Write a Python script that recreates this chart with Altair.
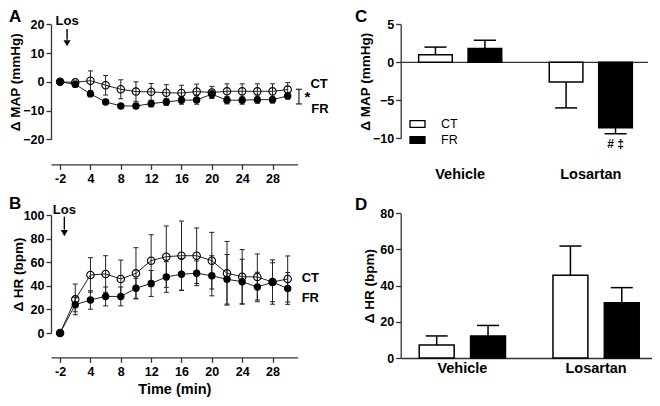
import altair as alt
import pandas as pd

FONT = "Liberation Sans"
INK = "#222222"

# ---------------- data ----------------
times = [-2, 2, 4, 6, 8, 10, 12, 14, 16, 18, 20, 22, 24, 26, 28, 30]

map_ct = [0, -0.2, 0.4, -1.2, -2.6, -3.4, -3.5, -3.8, -3.9, -3.4, -3.7, -3.3, -3.3, -3.3, -3.3, -2.7]
map_ct_se = [0, 0.5, 3.4, 3.4, 3.3, 3.4, 2.9, 2.8, 2.7, 2.6, 2.1, 2.6, 2.6, 2.6, 2.6, 2.4]
map_fr = [0, -0.9, -4.2, -7.0, -8.4, -8.4, -7.6, -7.0, -6.4, -6.3, -4.3, -6.4, -6.4, -6.2, -6.2, -4.9]
map_fr_se = [0, 0.6, 0.9, 0.9, 0.8, 0.9, 1.1, 1.2, 1.4, 1.5, 1.2, 1.3, 1.4, 1.3, 1.2, 1.1]

hr_ct = [0, 28.5, 49.2, 50.0, 45.8, 50.6, 61.3, 64.7, 65.5, 65.5, 61.3, 50.6, 47.7, 47.5, 43.2, 45.8]
hr_ct_se = [0, 13.0, 14.6, 15.5, 16.0, 21.7, 22.0, 26.0, 29.4, 23.5, 24.0, 27.0, 23.0, 19.5, 18.8, 19.5]
hr_fr = [0, 24.0, 28.0, 31.0, 31.0, 37.9, 42.0, 47.5, 49.8, 50.6, 48.5, 45.5, 43.5, 39.0, 43.0, 37.8]
hr_fr_se = [0, 6.0, 7.8, 8.0, 8.0, 8.5, 11.0, 13.0, 13.5, 10.5, 17.0, 21.0, 19.0, 12.5, 16.5, 13.5]

groups = ["CT", "FR"]
treatments = ["Vehicle", "Losartan"]
bar_map_mean = {"CT": [1.0, -2.6], "FR": [1.8, -8.6]}
bar_map_se = {"CT": [1.0, 3.4], "FR": [1.1, 0.8]}
bar_hr_mean = {"CT": [7.2, 45.7], "FR": [12.2, 30.6]}
bar_hr_se = {"CT": [5.0, 16.2], "FR": [5.8, 8.3]}

map_ticks = [-20, -10, 0, 10, 20]
hr_ticks = [0, 20, 40, 60, 80, 100]
bar_map_ticks = [-10, -5, 0, 5]
bar_hr_ticks = [0, 20, 40, 60, 80]
panel_letters = ["A", "B", "C", "D"]


def ts_frame(ct, ct_se, fr, fr_se):
    rows = []
    for grp, m, s in (("CT", ct, ct_se), ("FR", fr, fr_se)):
        for i, (t, mv, sv) in enumerate(zip(times, m, s)):
            rows.append({"slot": i, "time": t, "group": grp, "mean": mv,
                         "lo": mv - sv, "hi": mv + sv})
    return pd.DataFrame(rows)


def bar_frame(means, ses):
    rows = []
    for g in groups:
        for i, tr in enumerate(treatments):
            m = means[g][i]
            s = ses[g][i]
            rows.append({"treatment": tr, "group": g, "mean": m,
                         "end": m + (s if m >= 0 else -s)})
    return pd.DataFrame(rows)


def ts_panel(df, y_dom, y_rng, y_vals, y_title, x_off, x_title, ann):
    xs = alt.Scale(domain=[-0.6, 15.66], range=[43, 289.7], nice=False, zero=False)
    xa_kw = dict(orient="bottom", offset=x_off, values=list(range(0, 15, 2)),
                 labelExpr="datum.value == 0 ? '-2' : '' + datum.value * 2",
                 labelPadding=3, title=x_title)
    if x_title:
        xa_kw.update(titlePadding=4.5, titleFontSize=14.5)
    xa = alt.Axis(**xa_kw)
    ys = alt.Scale(domain=y_dom, range=y_rng, nice=False, zero=False)
    ya = alt.Axis(orient="left", offset=-43, values=y_vals, title=y_title,
                  titlePadding=ann["tpad"])

    def X(f):
        return alt.X(f, type="quantitative", scale=xs, axis=xa)

    def Y(f):
        return alt.Y(f, type="quantitative", scale=ys, axis=ya)

    base = alt.Chart(df)
    err = base.mark_rule(color=INK, strokeWidth=1).encode(x=X("slot"), y=Y("lo"), y2="hi")
    cap_lo = base.mark_tick(orient="horizontal", size=5, thickness=1, color=INK,
                            opacity=1).encode(x=X("slot"), y=Y("lo"))
    cap_hi = base.mark_tick(orient="horizontal", size=5, thickness=1, color=INK,
                            opacity=1).encode(x=X("slot"), y=Y("hi"))
    line = base.mark_line(color=INK, strokeWidth=1).encode(
        x=X("slot"), y=Y("mean"), detail="group:N")
    ct = base.transform_filter("datum.group == 'CT'").mark_point(
        shape="circle", filled=False, size=55, color="black", strokeWidth=1.1,
        opacity=1).encode(x=X("slot"), y=Y("mean"))
    fr = base.transform_filter("datum.group == 'FR'").mark_circle(
        size=55, color="black", opacity=1).encode(x=X("slot"), y=Y("mean"))

    los = pd.DataFrame({"slot": [ann["los_x"]], "ty": [ann["los_ty"]],
                        "y1": [ann["shaft"][0]], "y2": [ann["shaft"][1]],
                        "hy": [ann["head"]], "label": ["Los"]})
    los_text = alt.Chart(los).mark_text(fontSize=13, fontWeight="bold", align="center",
                                        baseline="middle", color="black").encode(
        x=X("slot"), y=Y("ty"), text="label:N")
    shaft = alt.Chart(los).mark_rule(color="black", strokeWidth=1.4).encode(
        x=X("slot"), y=Y("y1"), y2="y2")
    head = alt.Chart(los).mark_point(shape="triangle-down", filled=True, size=50,
                                     color="black", opacity=1).encode(x=X("slot"), y=Y("hy"))
    labs = pd.DataFrame({"slot": ann["lab_x"], "y": ann["lab_y"], "label": groups})
    lab_text = alt.Chart(labs).mark_text(fontSize=13, fontWeight="bold", align="left",
                                         baseline="middle", color="black").encode(
        x=X("slot"), y=Y("y"), text="label:N")
    layers = [err, cap_lo, cap_hi, line, ct, fr, los_text, shaft, head, lab_text]
    if "bracket" in ann:
        b = ann["bracket"]
        br = pd.DataFrame({"slot": [b[0]], "top": [b[1]], "bot": [b[2]],
                           "sx": [b[3]], "sy": [b[4]], "label": ["*"]})
        layers.append(alt.Chart(br).mark_rule(color=INK, strokeWidth=1.2).encode(
            x=X("slot"), y=Y("top"), y2="bot"))
        layers.append(alt.Chart(br).mark_tick(orient="horizontal", size=6, thickness=1.2,
                                              color=INK, opacity=1).encode(x=X("slot"), y=Y("top")))
        layers.append(alt.Chart(br).mark_tick(orient="horizontal", size=6, thickness=1.2,
                                              color=INK, opacity=1).encode(x=X("slot"), y=Y("bot")))
        layers.append(alt.Chart(br).mark_text(fontSize=15, fontWeight="bold", align="center",
                                              baseline="middle", color="black").encode(
            x=X("sx"), y=Y("sy"), text="label:N"))
    return alt.layer(*layers)


def bar_panel(df, y_dom, y_rng, y_vals, y_title, x_rng, x_pi, x_po, x_align,
              x_axis, legend, tpad, extra):
    xs = alt.Scale(domain=treatments, range=x_rng, paddingInner=x_pi,
                   paddingOuter=x_po, align=x_align)
    X = alt.X("treatment:N", scale=xs, axis=x_axis)
    XO = alt.XOffset("group:N", scale=alt.Scale(domain=groups, paddingInner=0.32,
                                                  paddingOuter=0))
    ys = alt.Scale(domain=y_dom, range=y_rng, nice=False)
    ya = alt.Axis(orient="left", offset=-392.7, values=y_vals, title=y_title,
                  titlePadding=tpad)

    def Y(f):
        return alt.Y(f, type="quantitative", scale=ys, axis=ya)

    base = alt.Chart(df)
    err = base.mark_rule(color="black", strokeWidth=1.5).encode(
        x=X, xOffset=XO, y=Y("mean"), y2="end")
    cap = base.mark_tick(orient="horizontal", size=22, thickness=1.5, color="black",
                         opacity=1).encode(x=X, xOffset=XO, y=Y("end"))
    bars = base.mark_bar(stroke="black", strokeWidth=1.5, opacity=1).encode(
        x=X, xOffset=XO, y=Y("mean"),
        fill=alt.Fill("group:N", scale=alt.Scale(domain=groups, range=["white", "black"]),
                      legend=legend))
    layers = [err, cap, bars]
    if extra == "C":
        zero = alt.Chart(pd.DataFrame({"y": [0]})).mark_rule(
            color="#333333", strokeWidth=1.3).encode(
            y=Y("y"), x=alt.value(392.7), x2=alt.value(640))
        sig = pd.DataFrame({"treatment": ["Losartan"], "group": ["FR"],
                            "y": [-10.75], "label": ["# \u2021"]})
        sig_text = alt.Chart(sig).mark_text(fontSize=12, fontWeight="bold",
                                            align="center", baseline="middle",
                                            color="black").encode(
            x=X, xOffset=XO, y=Y("y"), text="label:N")
        layers = [zero] + layers + [sig_text]
    return alt.layer(*layers)


dfA = ts_frame(map_ct, map_ct_se, map_fr, map_fr_se)
dfB = ts_frame(hr_ct, hr_ct_se, hr_fr, hr_fr_se)
dfC = bar_frame(bar_map_mean, bar_map_se)
dfD = bar_frame(bar_hr_mean, bar_hr_se)

panelA = ts_panel(dfA, [-20, 20], [131.3, 16.3], map_ticks, "\u0394 MAP (mmHg)", -233.7, None,
                  {"los_x": 0.46, "los_ty": 21.2, "shaft": [18.4, 14.6], "head": 13.4,
                   "lab_x": [16.5, 16.55], "lab_y": [-0.7, -9.6], "tpad": 0,
                   "bracket": [15.74, -2.6, -7.7, 16.3, -5.3]})
panelB = ts_panel(dfB, [0, 100], [325, 207], hr_ticks, "\u0394 HR (bpm)", -40.7, "Time (min)",
                  {"los_x": 0.28, "los_ty": 104.2, "shaft": [98.6, 87.5], "head": 84.6,
                   "lab_x": [15.92, 15.92], "lab_y": [46.4, 29.4], "tpad": -2})

legC = alt.Legend(orient="none", legendX=401, legendY=107.5, title=None,
                  symbolType="M-1,-0.45H1V0.45H-1Z", symbolSize=225,
                  symbolStrokeColor="black", symbolStrokeWidth=1.3,
                  labelFontSize=12.5, labelFontWeight="normal", labelColor="black",
                  labelOffset=15, rowPadding=1, padding=0, direction="vertical")

axC = alt.Axis(orient="bottom", offset=-230.2, domain=False, ticks=False, tickSize=0,
               labelPadding=0, labelFontSize=14.5, labelAngle=0, title=None)
axD = alt.Axis(orient="bottom", offset=-40, domain=True, ticks=False, tickSize=0,
               labelPadding=3.8, labelFontSize=14.5, labelAngle=0, title=None)

panelC = bar_panel(dfC, [-10, 5], [130.3, 16.3], bar_map_ticks, "\u0394 MAP (mmHg)",
                   [392.7, 640], 0.364, 0.1286, 0.534, axC, legC, 0, "C")
panelD = bar_panel(dfD, [0, 80], [350, 205.3], bar_hr_ticks, "\u0394 HR (bpm)",
                   [392.7, 648], 0.355, 0.132, 0.525, axD, None, 3, "D")

letter_layers = []
for letter, (px, py) in zip(panel_letters, [(1, 0.5), (1, 187.5), (347, 0.5), (347, 189)]):
    letter_layers.append(
        alt.Chart(pd.DataFrame({"t": [letter]})).mark_text(
            fontSize=17, fontWeight="bold", align="left", baseline="top",
            color="black").encode(text="t:N", x=alt.value(px), y=alt.value(py)))

chart = alt.layer(panelA, panelB, panelC, panelD, *letter_layers).resolve_scale(
    x="independent", y="independent", xOffset="independent", fill="independent"
).resolve_axis(
    x="independent", y="independent"
).properties(
    width=644, height=390, padding=0, autosize=alt.AutoSizeParams(type="none")
).configure(
    font=FONT
).configure_view(
    strokeWidth=0
).configure_axis(
    labelFont=FONT, labelFontSize=12.5, labelFontWeight="bold", labelColor="black",
    titleFont=FONT, titleFontSize=13.5, titleFontWeight="bold", titleColor="black",
    domainColor="#333333", domainWidth=1.3, tickColor="#333333", tickWidth=1.3,
    tickSize=5, grid=False, labelPadding=2
)

chart.save("out.html", embed_options={"renderer": "svg", "actions": False})
